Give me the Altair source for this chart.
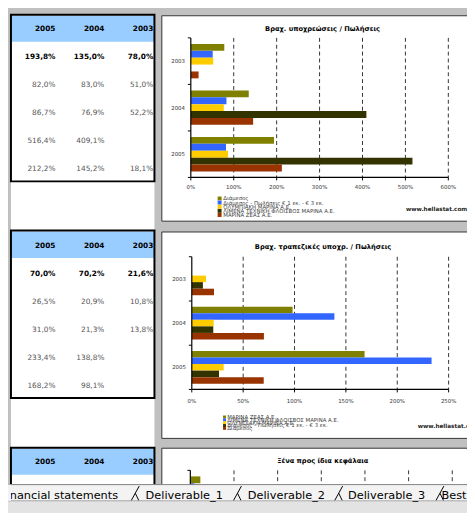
import altair as alt
import pandas as pd

# ---------------- data ----------------
col_years = ["2005", "2004", "2003"]          # table column order
cat_years = ["2003", "2004", "2005"]          # chart category order (top -> bottom)

series_names = [
    "Διάμεσος",
    "Διάμεσος - Πωλήσεις € 1 εκ. - € 3 εκ.",
    "ΟΛΥΜΠΙΑΚΗ ΜΑΡΙΝΑ Α.Ε.",
    "ΛΙΜΕΝΑ ΤΕΧΝΙΚΗ ΦΛΟΙΣΒΟΣ ΜΑΡΙΝΑ Α.Ε.",
    "ΜΑΡΙΝΑ ΖΕΑΣ Α.Ε.",
]

# Table 1 / chart 1: Βραχ. υποχρεώσεις / Πωλήσεις (%), columns 2005, 2004, 2003
t1_r1 = [193.8, 135.0, 78.0]
t1_r2 = [82.0, 83.0, 51.0]
t1_r3 = [86.7, 76.9, 52.2]
t1_r4 = [516.4, 409.1, None]
t1_r5 = [212.2, 145.2, 18.1]

# Table 2 / chart 2: Βραχ. τραπεζικές υποχρ. / Πωλήσεις (%)
t2_r1 = [70.0, 70.2, 21.6]
t2_r2 = [26.5, 20.9, 10.8]
t2_r3 = [31.0, 21.3, 13.8]
t2_r4 = [233.4, 138.8, None]
t2_r5 = [168.2, 98.1, None]

# Chart 3: only the first bars of 2003 are visible above the sheet tabs
c3_2003 = [23.0, 9.0]

bar_colors = ["#808000", "#3366FF", "#FFCC00", "#333300", "#993300"]

c1_ticks = [0, 100, 200, 300, 400, 500, 600]
c2_ticks = [0, 50, 100, 150, 200, 250]
c3_ticks = [0, 100, 200, 300, 400, 500, 600]

titles = ["Βραχ. υποχρεώσεις / Πωλήσεις",
          "Βραχ. τραπεζικές υποχρ. / Πωλήσεις",
          "Ξένα προς ίδια κεφάλαια"]
source_label = "www.hellastat.com"
tab_names = ["Financial statements", "Deliverable_1", "Deliverable_2", "Deliverable_3", "Best"]

# ---------------- layout helpers ----------------
W, H = 467, 505
OFF = 8
FONT = "DejaVu Sans"


def P(v):
    return v - OFF


def fmt(v):
    return f"{v:.1f}".replace(".", ",") + "%"


def rect_fill(rows, **mark):
    df = pd.DataFrame(rows, columns=["x", "y", "x2", "y2", "c"])
    return alt.Chart(df).mark_rect(**mark).encode(
        x=alt.X("x:Q", scale=None, axis=None), x2="x2:Q",
        y=alt.Y("y:Q", scale=None, axis=None), y2="y2:Q",
        fill=alt.Fill("c:N", scale=None),
    )


def rect_stroke(rows, width):
    df = pd.DataFrame(rows, columns=["x", "y", "x2", "y2", "c"])
    return alt.Chart(df).mark_rect(fillOpacity=0, strokeWidth=width).encode(
        x=alt.X("x:Q", scale=None, axis=None), x2="x2:Q",
        y=alt.Y("y:Q", scale=None, axis=None), y2="y2:Q",
        stroke=alt.Stroke("c:N", scale=None),
    )


def segs(rows, color, width, dash=None):
    df = pd.DataFrame(rows, columns=["x", "y", "x2", "y2"])
    m = dict(color=color, strokeWidth=width)
    if dash:
        m["strokeDash"] = dash
    return alt.Chart(df).mark_rule(**m).encode(
        x=alt.X("x:Q", scale=None, axis=None), x2="x2:Q",
        y=alt.Y("y:Q", scale=None, axis=None), y2="y2:Q",
    )


def texts(rows, **mark):
    df = pd.DataFrame(rows, columns=["x", "y", "t"])
    return alt.Chart(df).mark_text(font=FONT, **mark).encode(
        x=alt.X("x:Q", scale=None, axis=None),
        y=alt.Y("y:Q", scale=None, axis=None),
        text="t:N",
    )


def table_layers(rows, hy, step=28.46):
    xs = alt.Scale(domain=[0, 2], range=[48.3, 147.8], nice=False, zero=False)
    ys = alt.Scale(domain=[-1, 4], range=[hy, hy + 5 * step], nice=False, zero=False)
    recs = []
    for c, yr in enumerate(col_years):
        recs.append({"c": c, "r": -1, "t": yr, "k": "b"})
    for r, vals in enumerate(rows):
        for c, v in enumerate(vals):
            if v is not None:
                recs.append({"c": c, "r": r, "t": fmt(v), "k": "b" if r == 0 else "n"})
    df = pd.DataFrame(recs)
    out = []
    for kind, weight, color in [("b", "bold", "#000000"), ("n", "normal", "#555555")]:
        d = df[df.k == kind]
        if len(d):
            out.append(alt.Chart(d).mark_text(
                font=FONT, fontSize=7.5, fontWeight=weight, align="right",
                baseline="middle", color=color).encode(
                x=alt.X("c:Q", scale=xs, axis=None),
                y=alt.Y("r:Q", scale=ys, axis=None),
                text="t:N"))
    return out


def chart_layers(series, cfg):
    order = [s for s, _ in series]
    recs = []
    for name, vals in series:
        for yr, v in zip(col_years, vals):
            if v is not None:
                recs.append({"year": yr, "s": name, "v": v})
    df = pd.DataFrame(recs)
    x0, x1, top, bot = cfg["x0"], cfg["x1"], cfg["top"], cfg["bot"]
    xs = alt.Scale(domain=[0, cfg["ticks"][-1]], range=[x0, x1], nice=False, zero=True)
    ys = alt.Scale(domain=cat_years, range=[top, bot], paddingInner=0, paddingOuter=0)
    cs = alt.Scale(domain=order, range=bar_colors)
    tdf = pd.DataFrame({"t": cfg["ticks"]})
    tdf["lbl"] = [f"{t}%" for t in cfg["ticks"]]
    L = []
    # dashed vertical gridlines
    L.append(alt.Chart(tdf[tdf.t > 0]).mark_rule(color="#333333", strokeDash=[4, 3], strokeWidth=1).encode(
        x=alt.X("t:Q", scale=xs, axis=None), y=alt.value(top), y2=alt.value(bot)))
    # bars
    L.append(alt.Chart(df).mark_bar().encode(
        x=alt.X("v:Q", scale=xs, axis=None),
        y=alt.Y("year:N", scale=ys, axis=None),
        yOffset=alt.YOffset("s:N", scale=alt.Scale(domain=order, paddingInner=0, paddingOuter=0.88)),
        color=alt.Color("s:N", scale=cs, legend=None),
    ))
    # axis lines
    L.append(segs([(x0, top, x0, bot), (x0, bot, x1, bot)], "#000000", 1.2))
    # x ticks
    L.append(alt.Chart(tdf).mark_rule(color="#000000", strokeWidth=1).encode(
        x=alt.X("t:Q", scale=xs, axis=None), y=alt.value(bot), y2=alt.value(bot + 3)))
    # y ticks at category boundaries
    L.append(alt.Chart(pd.DataFrame({"k": [0, 1, 2, 3]})).mark_rule(color="#000000", strokeWidth=1).encode(
        y=alt.Y("k:Q", scale=alt.Scale(domain=[0, 3], range=[top, bot], nice=False, zero=False), axis=None),
        x=alt.value(x0 - 3), x2=alt.value(x0)))
    # tick labels
    if cfg.get("laby") is not None:
        L.append(alt.Chart(tdf).mark_text(font=FONT, fontSize=5.5, color="#333333", baseline="middle").encode(
            x=alt.X("t:Q", scale=xs, axis=None), y=alt.value(cfg["laby"]), text="lbl:N"))
    # category labels
    if cfg.get("catx") is not None:
        L.append(alt.Chart(pd.DataFrame({"year": cat_years})).mark_text(
            font=FONT, fontSize=5.5, color="#333333", align="right", baseline="middle").encode(
            x=alt.value(cfg["catx"]), y=alt.Y("year:N", scale=ys, axis=None), text="year:N"))
    # title
    L.append(texts([(cfg["tx"], cfg["ty"], cfg["title"])], fontSize=6.8, fontWeight="bold",
                   align="center", baseline="middle", color="#000000"))
    # legend
    if cfg.get("leg"):
        lg = cfg["leg"]
        ldf = pd.DataFrame({"s": order, "i": list(range(len(order)))})
        lys = alt.Scale(domain=[0, 4], range=[lg["y0"], lg["y0"] + 4 * lg["dy"]], nice=False, zero=False)
        L.append(alt.Chart(ldf).mark_square(size=lg["sw"] ** 2, opacity=1).encode(
            x=alt.value(lg["sx"]), y=alt.Y("i:Q", scale=lys, axis=None),
            color=alt.Color("s:N", scale=cs, legend=None)))
        L.append(alt.Chart(ldf).mark_text(font=FONT, fontSize=5.5, color="#444444",
                                          align="left", baseline="middle").encode(
            x=alt.value(lg["tx"]), y=alt.Y("i:Q", scale=lys, axis=None), text="s:N"))
        L.append(texts([(lg["wx"], lg["wy"], source_label)], fontSize=5.8, fontWeight="bold",
                       align="left", baseline="middle", color="#222222"))
    return L


layers = []

# white spreadsheet column and chart frames
layers.append(rect_fill([(3, 2, 149, 480.5, "#FFFFFF")]))
layers.append(rect_fill([(156.5, 3.5, 480, 212.5, "#FFFFFF"),
                         (156.5, 223.5, 480, 433.5, "#FFFFFF"),
                         (156.5, 443.5, 480, 520, "#FFFFFF")]))
layers.append(rect_stroke([(156.5, 3.5, 480, 212.5, "#333333"),
                           (156.5, 223.5, 480, 433.5, "#333333"),
                           (156.5, 443.5, 480, 520, "#333333")], 1))

# table header fills
layers.append(rect_fill([(3, 3.5, 149, 30, "#99CCFF"),
                         (3, 223, 149, 250, "#99CCFF"),
                         (3, 444, 149, 470.5, "#99CCFF")]))
# table borders
layers.append(rect_stroke([(3, 2.5, 149, 172, "#000000"),
                           (3, 222, 149, 392.5, "#000000"),
                           (3, 443, 149, 520, "#000000")], 2))

# table texts
layers += table_layers([t1_r1, t1_r2, t1_r3, t1_r4, t1_r5], 17)
layers += table_layers([t2_r1, t2_r2, t2_r3, t2_r4, t2_r5], 237.7)
layers += table_layers([], 458)

# chart 1
s1 = list(zip(series_names, [t1_r1, t1_r2, t1_r3, t1_r4, t1_r5]))
layers += chart_layers(s1, dict(
    x0=186, x1=448, top=26, bot=168, ticks=c1_ticks, laby=178, catx=180,
    tx=320, ty=17, title=titles[0],
    leg=dict(sx=215.3, tx=219, y0=189.4, dy=4.2, sw=4, wx=405, wy=200)))

# chart 2 (series in reverse row order)
s2 = list(zip(series_names[::-1], [t2_r5, t2_r4, t2_r3, t2_r2, t2_r1]))
layers += chart_layers(s2, dict(
    x0=187, x1=448.3, top=248.7, bot=383.7, ticks=c2_ticks, laby=395.3, catx=181,
    tx=320.5, ty=238.7, title=titles[1],
    leg=dict(sx=220.3, tx=223, y0=411.7, dy=2.9, sw=3, wx=417, wy=421)))

# chart 3 (mostly hidden behind the sheet tabs)
s3 = [(series_names[0], [None, None, c3_2003[0]]),
      (series_names[1], [None, None, c3_2003[1]]),
      (series_names[2], [None, None, None]),
      (series_names[3], [None, None, None]),
      (series_names[4], [None, None, None])]
layers += chart_layers(s3, dict(
    x0=185.5, x1=452, top=466, bot=608, ticks=c3_ticks, laby=None, catx=None,
    tx=320.3, ty=457, title=titles[2]))

# sheet tab bar
layers.append(rect_fill([(0, 480.5, 480, 497, "#F3F3F3"),
                         (0, 497, 480, 520, "#E3E3E3")]))
layers.append(segs([(0, 480.5, 480, 480.5)], "#7F7F7F", 1))
layers.append(segs([(0, 497, 480, 497)], "#A8A8A8", 1))
layers.append(texts([(P(120), P(503), tab_names[0])], fontSize=11.5, align="right",
                    baseline="alphabetic", color="#000000"))
layers.append(texts([(P(148), P(503), tab_names[1]),
                     (P(252), P(503), tab_names[2]),
                     (P(354), P(503), tab_names[3]),
                     (P(449), P(503), tab_names[4])], fontSize=11.5, align="left",
                    baseline="alphabetic", color="#000000"))
sep_x = [133.5, 237.5, 340.5, 443.5]
# tab edges: right edge of one tab "/" and the visible lower half of the next tab's edge "\"
layers.append(segs([(P(x), P(504.5), P(x + 8), P(490)) for x in sep_x], "#000000", 1))
layers.append(segs([(P(x + 4), P(497.3), P(x + 7.5), P(504.5)) for x in sep_x], "#000000", 1))
# thin strip at the far left
layers.append(rect_fill([(0, 480.5, 3, 497, "#F3F3F3")]))

chart = alt.layer(*layers).properties(
    width=W, height=H, padding=0,
    autosize=alt.AutoSizeParams(type="none"),
    background="#C0C0C0",
).resolve_scale(
    x="independent", y="independent", color="independent",
    fill="independent", stroke="independent", yOffset="independent",
).configure_view(strokeWidth=0)

chart.save("out.html", embed_options={"renderer": "svg", "actions": False})
